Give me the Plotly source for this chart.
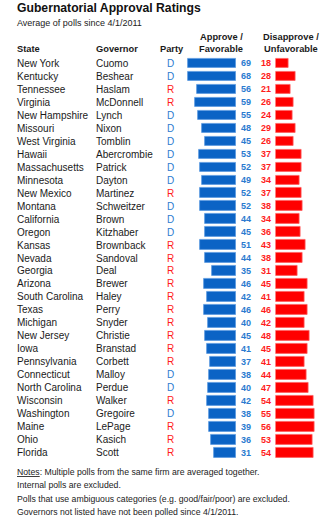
import plotly.graph_objects as go

W, H = 324, 518

states = ["New York", "Kentucky", "Tennessee", "Virginia", "New Hampshire", "Missouri",
          "West Virginia", "Hawaii", "Massachusetts", "Minnesota", "New Mexico", "Montana",
          "California", "Oregon", "Kansas", "Nevada", "Georgia", "Arizona", "South Carolina",
          "Texas", "Michigan", "New Jersey", "Iowa", "Pennsylvania", "Connecticut",
          "North Carolina", "Wisconsin", "Washington", "Maine", "Ohio", "Florida"]
governors = ["Cuomo", "Beshear", "Haslam", "McDonnell", "Lynch", "Nixon", "Tomblin",
             "Abercrombie", "Patrick", "Dayton", "Martinez", "Schweitzer", "Brown",
             "Kitzhaber", "Brownback", "Sandoval", "Deal", "Brewer", "Haley", "Perry",
             "Snyder", "Christie", "Branstad", "Corbett", "Malloy", "Perdue", "Walker",
             "Gregoire", "LePage", "Kasich", "Scott"]
parties = ["D", "D", "R", "R", "D", "D", "D", "D", "D", "D", "R", "D", "D", "D", "R", "R",
           "R", "R", "R", "R", "R", "R", "R", "R", "D", "D", "R", "D", "R", "R", "R"]
approve = [69, 68, 56, 59, 55, 48, 45, 53, 52, 49, 52, 52, 44, 45, 51, 44, 35, 46, 42, 46,
           40, 45, 41, 37, 38, 40, 42, 38, 39, 36, 31]
disapprove = [18, 28, 21, 26, 24, 29, 26, 37, 37, 34, 37, 38, 34, 36, 43, 38, 31, 45, 41, 46,
              42, 48, 45, 41, 44, 47, 54, 55, 56, 53, 54]

title = "Gubernatorial Approval Ratings"
subtitle = "Average of polls since 4/1/2011"
notes = ["<u>Notes</u>: Multiple polls from the same firm are averaged together.",
         "Internal polls are excluded.",
         "Polls that use ambiguous categories (e.g. good/fair/poor) are excluded.",
         "Governors not listed have not been polled since 4/1/2011."]

FONT = "Liberation Sans, Arial, sans-serif"
BLUE_BAR = "#0b63c5"
RED_BAR = "#ff0000"
BLUE_TXT = "#2a7bd0"
RED_TXT = "#ff1c1c"
TXT = "#1a1a1a"

n = len(states)
rows = list(range(n))

# pixel geometry helpers
def px(x):
    return x / W

def py(y):
    return 1 - y / H

row0, rowh = 63.3, 12.98
top = row0 - rowh / 2
bot = top + n * rowh
SCALE = 0.70  # px per percentage point

fig = go.Figure()
fig.add_trace(go.Bar(y=rows, x=approve, orientation="h", xaxis="x", yaxis="y",
                     marker=dict(color=BLUE_BAR, line=dict(color="#5c9be0", width=0.8)),
                     width=0.74, hoverinfo="skip"))
fig.add_trace(go.Bar(y=rows, x=disapprove, orientation="h", xaxis="x2", yaxis="y",
                     marker=dict(color=RED_BAR, line=dict(color="#ff6060", width=0.8)),
                     width=0.74, hoverinfo="skip"))

ann = []
def t(x, y, text, size=10, color=TXT, bold=False, xanchor="left", yref="paper"):
    ann.append(dict(x=x, y=y, xref="paper", yref=yref, text=("<b>%s</b>" % text) if bold else text,
                    showarrow=False, xanchor=xanchor, yanchor="middle",
                    font=dict(family=FONT, size=size, color=color)))

t(px(15), py(7.8), title, size=12.2, color="#111", bold=True)
t(px(15), py(23), subtitle, size=9, color="#222")

hs = 9.3
t(px(15), py(49), "State", size=hs, bold=True)
t(px(94), py(49), "Governor", size=hs, bold=True)
t(px(171.6), py(49), "Party", size=hs, bold=True, xanchor="center")
t(px(221.3), py(36.5), "Approve /", size=hs, bold=True, xanchor="center")
t(px(221.3), py(49), "Favorable", size=hs, bold=True, xanchor="center")
t(px(291), py(36.5), "Disapprove /", size=hs, bold=True, xanchor="center")
t(px(291), py(49), "Unfavorable", size=hs, bold=True, xanchor="center")

for i in rows:
    t(px(15), i, states[i], size=10, yref="y")
    t(px(94), i, governors[i], size=10, yref="y")
    pc = BLUE_TXT if parties[i] == "D" else RED_TXT
    t(px(170.7), i, parties[i], size=10, color=pc, xanchor="center", yref="y")
    t(px(239), i, str(approve[i]), size=9, color=BLUE_TXT, bold=True, yref="y")
    t(px(272.5), i, str(disapprove[i]), size=9, color=RED_TXT, bold=True, xanchor="right", yref="y")

for k, line in enumerate(notes):
    t(px(15), py(471.7 + k * 13.4), line, size=8.7, color="#222")

ax_common = dict(showgrid=False, zeroline=False, showticklabels=False, showline=False, ticks="")
fig.update_layout(
    width=W, height=H, margin=dict(l=0, r=0, t=0, b=0),
    paper_bgcolor="white", plot_bgcolor="white", showlegend=False, bargap=0,
    xaxis=dict(domain=[px(150), px(236)], range=[86 / SCALE, 0], **ax_common),
    xaxis2=dict(domain=[px(275.5), px(322)], range=[0, 46.5 / SCALE], anchor="y", **ax_common),
    yaxis=dict(domain=[py(bot), py(top)], range=[n - 0.5, -0.5], **ax_common),
    annotations=ann,
)

fig.write_html("out.html")
